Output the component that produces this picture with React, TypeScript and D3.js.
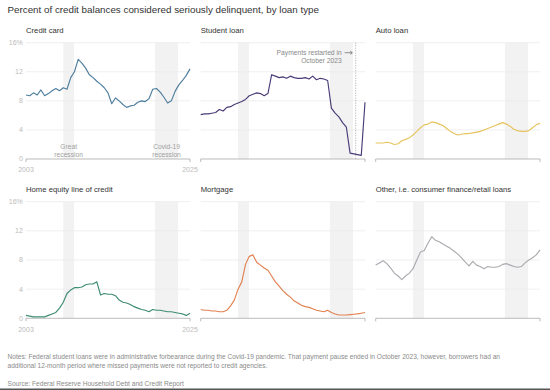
import React from 'react';
import * as d3 from 'd3';

// half-year sample points, 2003 to 2025
const years = d3.range(0, 45).map(i => 2003 + i / 2);

const creditCard = [8.8, 8.7, 9.1, 8.8, 9.5, 8.7, 9.0, 9.4, 9.7, 9.4, 9.8, 9.6, 11.2, 12.0, 13.7, 13.2, 12.5, 11.6, 11.2, 10.7, 10.3, 9.8, 9.1, 7.6, 8.4, 8.0, 7.5, 7.1, 7.3, 7.4, 7.8, 8.0, 7.9, 8.3, 9.6, 9.7, 9.2, 8.5, 7.7, 8.0, 9.3, 10.2, 10.8, 11.5, 12.4];
const studentLoan = [6.1, 6.2, 6.2, 6.3, 6.4, 6.8, 6.6, 7.1, 7.2, 7.5, 7.7, 7.9, 8.2, 8.7, 8.9, 9.1, 9.0, 8.7, 9.0, 11.6, 11.4, 11.2, 11.3, 11.1, 11.4, 11.2, 11.1, 11.1, 11.2, 11.0, 11.4, 10.9, 11.1, 11.0, 10.8, 7.0, 6.3, 5.8, 5.0, 4.4, 0.8, 0.7, 0.6, 0.5, 7.8];
const autoLoan = [2.2, 2.2, 2.2, 2.3, 2.2, 2.0, 2.1, 2.5, 2.7, 2.9, 3.3, 3.8, 4.3, 4.7, 4.8, 5.1, 5.0, 4.8, 4.6, 4.2, 3.8, 3.5, 3.3, 3.4, 3.5, 3.5, 3.6, 3.7, 3.8, 4.0, 4.2, 4.4, 4.6, 4.8, 5.0, 4.8, 4.5, 4.1, 3.9, 3.8, 3.8, 3.9, 4.3, 4.7, 4.9];
const homeEquity = [0.4, 0.3, 0.2, 0.2, 0.2, 0.2, 0.4, 0.6, 0.8, 1.4, 2.2, 3.4, 3.9, 4.2, 4.2, 4.3, 4.6, 4.7, 4.7, 5.0, 3.2, 3.4, 3.3, 3.3, 3.1, 2.5, 2.2, 2.1, 1.9, 1.6, 1.4, 1.2, 1.1, 0.9, 1.2, 1.1, 1.1, 1.0, 0.9, 0.9, 0.8, 0.7, 0.6, 0.4, 0.7];
const mortgage = [1.2, 1.1, 1.1, 1.0, 1.0, 0.9, 0.9, 1.1, 1.7, 2.5, 4.0, 5.0, 7.4, 8.5, 8.7, 7.7, 7.3, 6.9, 6.6, 5.8, 5.0, 4.4, 3.8, 3.3, 2.9, 2.4, 2.1, 1.8, 1.6, 1.5, 1.3, 1.1, 1.0, 0.9, 1.1, 0.8, 0.6, 0.45, 0.45, 0.45, 0.5, 0.55, 0.6, 0.7, 0.8];
const other = [7.3, 7.6, 7.9, 7.5, 6.9, 6.2, 5.8, 5.3, 5.8, 6.2, 6.8, 8.0, 9.1, 9.3, 10.3, 11.2, 10.7, 10.5, 10.2, 9.9, 9.6, 9.2, 8.8, 8.3, 7.7, 7.2, 7.8, 7.3, 7.1, 6.8, 7.1, 7.0, 7.0, 7.1, 7.4, 7.5, 7.3, 7.1, 7.0, 7.1, 7.6, 8.0, 8.3, 8.7, 9.4];

const panelTitles = ['Credit card', 'Student loan', 'Auto loan', 'Home equity line of credit', 'Mortgage', 'Other, i.e. consumer finance/retail loans'];
const panelSeries = [creditCard, studentLoan, autoLoan, homeEquity, mortgage, other];
const panelColors = ['#4e7d9e', '#4a3b78', '#e7c35e', '#3f8c74', '#e2814f', '#aaaab0'];

const yTicks = [0, 4, 8, 12, 16];
const yearLabels = [2003, 2025];

// shaded periods
const bandStarts = [2008.0, 2020.3];
const bandEnds = [2009.45, 2023.4];
const bandLabels = [['Great', 'recession'], ['Covid-19', 'recession']];

const restartDate = 2023.75;

const colX = [[26, 190], [200.7, 365], [375.7, 540]];
const rowY = [[159, 42.7], [318.3, 201.7]];

const font = 'Liberation Sans, Arial, Helvetica, sans-serif';

const Panel: React.FC<{ idx: number }> = ({ idx }) => {
  const col = idx % 3;
  const row = Math.floor(idx / 3);
  const x = d3.scaleLinear().domain([2003, 2025]).range(colX[col]);
  const y = d3.scaleLinear().domain([0, 16]).range(rowY[row]);
  const vals = panelSeries[idx];
  const line = d3
    .line<number>()
    .x((_, i) => x(years[i]))
    .y(d => y(d))
    .curve(d3.curveLinear);
  const [x0, x1] = x.range();

  return (
    <g>
      <text x={x0} y={y(16) - 10} fontSize={7.7} fill="#333">{panelTitles[idx]}</text>
      {bandStarts.map((b, i) => (
        <rect key={i} x={x(b)} y={y(16)} width={x(bandEnds[i]) - x(b)} height={y(0) - y(16)} fill="#f2f2f3" />
      ))}
      {yTicks.filter(t => t > 0).map(t => (
        <line key={t} x1={x0} x2={x1} y1={y(t)} y2={y(t)} stroke="#ebebeb" strokeWidth={0.8} />
      ))}
      <line x1={x0} x2={x1} y1={y(0)} y2={y(0)} stroke="#aaa" strokeWidth={0.8} />
      <line x1={x0} x2={x0} y1={y(0)} y2={y(0) + 3} stroke="#aaa" strokeWidth={0.8} />
      <line x1={x1} x2={x1} y1={y(0)} y2={y(0) + 3} stroke="#aaa" strokeWidth={0.8} />
      {col === 0 &&
        yTicks.map(t => (
          <text key={t} x={22.8} y={y(t) + 2.4} fontSize={7} fill="#bbb" textAnchor="end">
            {t === 16 ? '16%' : t}
          </text>
        ))}
      {col === 0 &&
        yearLabels.map(yr => (
          <text key={yr} x={x(yr)} y={y(0) + 13.3} fontSize={7} fill="#bbb" textAnchor="middle">{yr}</text>
        ))}
      {idx === 0 &&
        bandLabels.map((lbl, i) => (
          <text key={i} x={(x(bandStarts[i]) + x(bandEnds[i])) / 2} textAnchor="middle" fontSize={6.7} fill="#a0a0a0">
            <tspan x={(x(bandStarts[i]) + x(bandEnds[i])) / 2} y={y(0) - 10.5}>{lbl[0]}</tspan>
            <tspan x={(x(bandStarts[i]) + x(bandEnds[i])) / 2} y={y(0) - 2.5}>{lbl[1]}</tspan>
          </text>
        ))}
      {idx === 1 && (
        <g>
          <line x1={x(restartDate)} x2={x(restartDate)} y1={y(16)} y2={y(0)} stroke="#888" strokeWidth={0.7} strokeDasharray="1,1.5" />
          <text x={x(restartDate) - 14} y={y(16) + 12} fontSize={6.7} fill="#888" textAnchor="end">Payments restarted in</text>
          <text x={x(restartDate) - 14} y={y(16) + 20.5} fontSize={6.7} fill="#888" textAnchor="end">October 2023</text>
          <line x1={x(restartDate) - 11} x2={x(restartDate) - 3.5} y1={y(16) + 10} y2={y(16) + 10} stroke="#666" strokeWidth={0.7} />
          <path
            d={`M${x(restartDate) - 5.5},${y(16) + 8.3} L${x(restartDate) - 3.3},${y(16) + 10} L${x(restartDate) - 5.5},${y(16) + 11.7}`}
            fill="none"
            stroke="#666"
            strokeWidth={0.7}
          />
        </g>
      )}
      <path d={line(vals) ?? ''} fill="none" stroke={panelColors[idx]} strokeWidth={1.15} strokeLinejoin="round" />
    </g>
  );
};

const App: React.FC = () => {
  return (
    <svg width={550} height={390} style={{ position: 'absolute', left: 0, top: 0, fontFamily: font }}>
      <rect width={550} height={390} fill="#fff" />
      <text x={7.5} y={12.5} fontSize={9.8} fill="#333">
        Percent of credit balances considered seriously delinquent, by loan type
      </text>
      {panelTitles.map((_, i) => (
        <Panel key={i} idx={i} />
      ))}
      <text x={7.5} y={358.8} fontSize={6.6} fill="#8a8a8a">
        Notes: Federal student loans were in administrative forbearance during the Covid-19 pandemic. That payment pause ended in October 2023, however, borrowers had an
      </text>
      <text x={7.5} y={367.8} fontSize={6.6} fill="#8a8a8a">
        additional 12-month period where missed payments were not reported to credit agencies.
      </text>
      <text x={7.5} y={385.5} fontSize={6.6} fill="#8a8a8a">Source: Federal Reserve Household Debt and Credit Report</text>
      <line x1={0} x2={550} y1={389.2} y2={389.2} stroke="#555" strokeWidth={1.5} />
    </svg>
  );
};

export default App;
